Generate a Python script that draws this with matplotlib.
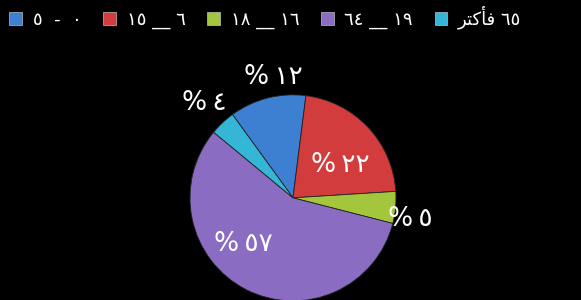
import numpy as np
import matplotlib.pyplot as plt
from matplotlib.patches import Patch

# age groups (visual order, Arabic text pre-shaped for matplotlib)
labels = ["٥  -  ٠", "١٥ __ ٦", "١٨ __ ١٦", "٦٤ __ ١٩", "\uFEAE\uFE98\uFEDB\uFE84\uFED3 ٦٥"]
values = [12, 22, 5, 57, 4]
pct_text = ["%\u2009١٢", "%\u2009٢٢", "%\u2009٥", "%\u2009٥٧", "%\u2009٤"]
colors = ["#3d7fd0", "#d23c3c", "#a3c63c", "#8a6cc2", "#35b6d6"]

# label placement (distance from centre, angle shift in degrees)
label_dist = [1.19, 0.56, 1.16, 0.66, 1.26]
label_shift = [-5, -8, -5, -20, 0]

plt.rcParams["font.family"] = ["DejaVu Sans"]

fig = plt.figure(figsize=(5.81, 3.0), dpi=100, facecolor="black")
ax = fig.add_axes([0.327, -0.003, 0.3546, 0.687])
ax.set_facecolor("black")

wedges, _ = ax.pie(values, colors=colors, startangle=126, counterclock=False,
                   wedgeprops=dict(edgecolor="#222222", linewidth=0.6))
ax.set_aspect("equal")
ax.set_xlim(-1, 1)
ax.set_ylim(-1, 1)

for w, txt, d, s in zip(wedges, pct_text, label_dist, label_shift):
    ang = np.deg2rad((w.theta1 + w.theta2) / 2 + s)
    ax.text(d * np.cos(ang), d * np.sin(ang), txt, color="white",
            fontsize=19, ha="center", va="center", clip_on=False)

handles = [Patch(facecolor=c, edgecolor="#dddddd", linewidth=0.4) for c in colors]
fig.legend(handles, labels, loc="upper left", bbox_to_anchor=(-0.012, 1.035),
           ncol=5, frameon=False, fontsize=13, labelcolor="white",
           handlelength=0.7, handleheight=0.7, handletextpad=0.6,
           columnspacing=1.2)

fig.savefig("out.png", dpi=100, facecolor="black")
